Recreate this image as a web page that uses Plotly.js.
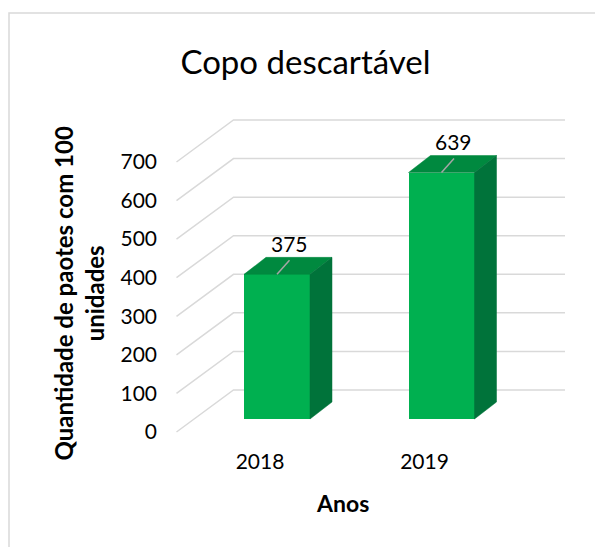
<!DOCTYPE html>
<html>
<head>
<meta charset="utf-8">
<script src="https://cdn.plot.ly/plotly-3.0.1.min.js"></script>
<style>html,body{margin:0;padding:0;background:#fff;}#chart{width:595px;height:547px;}</style>
</head>
<body>
<div id="chart"></div>
<script>
// ---- data ----
const categories = ['2018', '2019'];
const values = [375, 639];
const yTickVals = [0, 100, 200, 300, 400, 500, 600, 700];
const yTickText = ['0', '100', '200', '300', '400', '500', '600', '700'];
const chartTitle = 'Copo descartável';
const yTitle = 'Quantidade de paotes com 100<br>unidades';
const xTitle = 'Anos';

// ---- geometry (pixel scales of the faux-3D view) ----
const W = 595, H = 547;
const M = {l: 170, r: 25, t: 100, b: 100};
const pxPerCat = 164.5, x0px = 260;        // category 0 at x=260px
const pxPerVal = 0.38571, y0px = 432;      // value 0 (front plane) at y=432px
const xRange = [(M.l - x0px) / pxPerCat, (W - M.r - x0px) / pxPerCat];
const yRange = [(y0px - (H - M.b)) / pxPerVal, (y0px - M.t) / pxPerVal];
const u = px => px / pxPerCat;   // pixel distance -> x units
const v = px => px / pxPerVal;   // pixel distance -> y units

// walls
const gridLeft = (176.5 - x0px) / pxPerCat;
const gridRight = (565 - x0px) / pxPerCat;
const backDU = u(57), backDV = v(42);
// bars
const barDU = u(17), barDV = v(13);     // bar plane offset from front plane
const barW = u(66);
const depthDU = u(22), depthDV = v(17);

const FRONT = '#00B050', TOP = '#00893F', SIDE = '#00733A';
const FONT = 'Lato, "Open Sans", sans-serif';

const xs = categories.map((c, i) => i + barDU);

// top and side faces
const topX = [], topY = [], sideX = [], sideY = [], leadX = [], leadY = [];
values.forEach((val, i) => {
  const xl = xs[i] - barW / 2, xr = xs[i] + barW / 2;
  const yb = barDV, yt = barDV + val;
  topX.push(xl, xr, xr + depthDU, xl + depthDU, xl, null);
  topY.push(yt, yt, yt + depthDV, yt + depthDV, yt, null);
  sideX.push(xr, xr, xr + depthDU, xr + depthDU, xr, null);
  sideY.push(yb, yt, yt + depthDV, yb + depthDV, yb, null);
  leadX.push(xs[i], xs[i] + u(12.5), null);
  leadY.push(yt, yt + v(14), null);
});

const traces = [
  {type: 'bar', x: xs, y: values, base: barDV, width: barW,
   marker: {color: FRONT, line: {width: 0}}, hoverinfo: 'skip', showlegend: false},
  {type: 'scatter', mode: 'lines', x: topX, y: topY, fill: 'toself', fillcolor: TOP,
   line: {color: TOP, width: 0.5}, hoverinfo: 'skip', showlegend: false},
  {type: 'scatter', mode: 'lines', x: sideX, y: sideY, fill: 'toself', fillcolor: SIDE,
   line: {color: SIDE, width: 0.5}, hoverinfo: 'skip', showlegend: false},
  {type: 'scatter', mode: 'lines', x: leadX, y: leadY,
   line: {color: '#A6A6A6', width: 1.5}, hoverinfo: 'skip', showlegend: false}
];

// gridlines (side-wall diagonal + back wall horizontal)
const shapes = yTickVals.map(t => ({
  type: 'path', xref: 'x', yref: 'y', layer: 'below',
  path: `M ${gridLeft},${t} L ${gridLeft + backDU},${t + backDV} L ${gridRight},${t + backDV}`,
  line: {color: '#D9D9D9', width: 1.5}
}));
// chart border
shapes.push({type: 'rect', xref: 'paper', yref: 'paper',
  x0: (9 - M.l) / (W - M.l - M.r), x1: (W + 10 - M.l) / (W - M.l - M.r),
  y0: (H - M.b - (H + 10)) / (H - M.t - M.b), y1: (H - M.b - 13) / (H - M.t - M.b),
  line: {color: '#D9D9D9', width: 1.5}, layer: 'below'});

const annotations = values.map((val, i) => ({
  x: xs[i], y: barDV + val, xref: 'x', yref: 'y', text: String(val),
  showarrow: false, xshift: 12, yshift: 31,
  font: {family: FONT, size: 21, color: '#000'}
}));
annotations.push({
  xref: 'paper', yref: 'paper', text: yTitle, textangle: -90, showarrow: false,
  x: (78.5 - M.l) / (W - M.l - M.r), y: (H - M.b - 294) / (H - M.t - M.b),
  xanchor: 'center', yanchor: 'middle',
  font: {family: FONT, size: 24, color: '#000', weight: 'bold'}
});
annotations.push({
  xref: 'paper', yref: 'paper', text: '<b>' + xTitle + '</b>', showarrow: false,
  x: (342.5 - M.l) / (W - M.l - M.r), y: (H - M.b - 503) / (H - M.t - M.b),
  xanchor: 'center', yanchor: 'middle',
  font: {family: FONT, size: 23, color: '#000'}
});

const layout = {
  width: W, height: H, margin: M,
  paper_bgcolor: '#fff', plot_bgcolor: 'rgba(0,0,0,0)',
  title: {text: chartTitle, x: 305.5 / W, xanchor: 'center', y: 1 - 62 / H, yanchor: 'middle',
          font: {family: FONT, size: 33, color: '#000'}},
  xaxis: {range: xRange, tickvals: [0, 1], ticktext: categories, showgrid: false, zeroline: false,
          showline: false, ticks: '', tickfont: {family: FONT, size: 21, color: '#000'}, fixedrange: true},
  yaxis: {range: yRange, tickvals: yTickVals, ticktext: yTickText, showgrid: false, zeroline: false,
          showline: false, ticks: '', ticklabelstandoff: 12,
          tickfont: {family: FONT, size: 21, color: '#000'}, fixedrange: true},
  shapes: shapes, annotations: annotations, showlegend: false, bargap: 0
};

Plotly.newPlot('chart', traces, layout, {displayModeBar: false, staticPlot: true});
</script>
</body>
</html>
